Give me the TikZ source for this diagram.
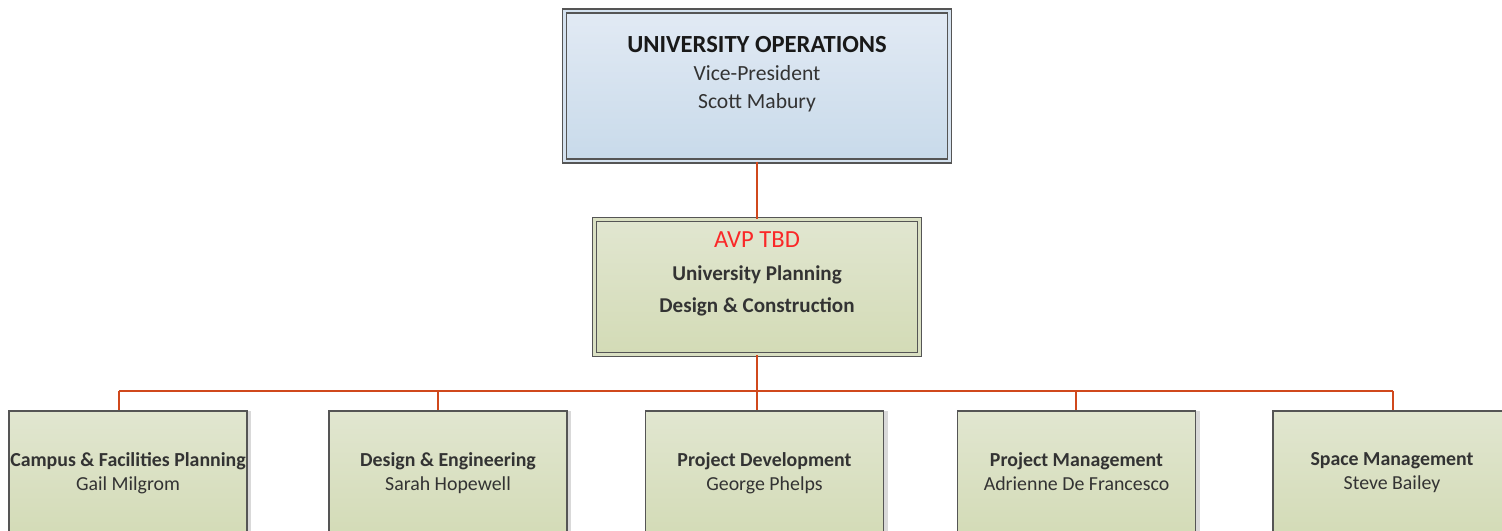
\documentclass[tikz,border=0pt]{standalone}
\usepackage{fontspec}
\setmainfont{Carlito}
\usetikzlibrary{shadows}

\definecolor{linkred}{RGB}{208,72,28}
\definecolor{edgegray}{RGB}{85,85,85}
\definecolor{bluetop}{RGB}{226,234,244}
\definecolor{bluebot}{RGB}{200,218,234}
\definecolor{greentop}{RGB}{225,230,208}
\definecolor{greenbot}{RGB}{211,219,182}
\definecolor{avpred}{RGB}{250,40,40}

\begin{document}
\begin{tikzpicture}[x=0.02cm,y=-0.02cm,
  link/.style={draw=linkred, line width=1.1pt},
  vpbox/.style={draw=edgegray, line width=0.8pt, double=bluetop!50!bluebot, double distance=1.6pt,
    top color=bluetop, bottom color=bluebot, minimum width=7.7cm, minimum height=3cm,
    drop shadow={shadow xshift=1.5pt, shadow yshift=-1.5pt, fill=black!20, opacity=1}},
  avpbox/.style={draw=edgegray, line width=0.8pt, double=greentop!50!greenbot, double distance=1.6pt,
    top color=greentop, bottom color=greenbot, minimum width=6.5cm, minimum height=2.7cm,
    drop shadow={shadow xshift=1.5pt, shadow yshift=-1.5pt, fill=black!20, opacity=1}},
  unitbox/.style={draw=edgegray, line width=1pt, top color=greentop, bottom color=greenbot,
    minimum width=4.76cm, minimum height=2.56cm, inner xsep=0pt, align=center, text=black!80,
    font=\fontsize{11.3}{13.6}\selectfont,
    execute at begin node=\strut, execute at end node=\strut,
    drop shadow={shadow xshift=2.5pt, shadow yshift=0pt, fill=black!15, opacity=1}},
  boxtext/.style={align=center, text=black!80}]

\useasboundingbox (0,0) rectangle (1502,531);
\clip (0,0) rectangle (1502,531);

\node (topbox) [vpbox] at (757,86) {};
\node (toptext) [boxtext, font=\fontsize{12.3}{16}\selectfont] at (757,74.5)
  {{\fontsize{14}{16}\selectfont\bfseries\color{black!90}UNIVERSITY OPERATIONS}\\Vice-President\\Scott Mabury};

\node (midbox) [avpbox] at (757,287) {};
\node (midtext) [boxtext, font=\fontsize{12}{18.5}\selectfont\bfseries] at (757,274)
  {{\fontsize{14}{18.5}\selectfont\mdseries\color{avpred}AVP TBD}\\University Planning\\Design \& Construction};

\node (b1) [unitbox] at (128,475) {\textbf{Campus \& Facilities Planning}\\Gail Milgrom};
\node (b2) [unitbox] at (448,475) {\textbf{Design \& Engineering}\\Sarah Hopewell};
\node (b3) [unitbox] at (764.5,475) {\textbf{Project Development}\\George Phelps};
\node (b4) [unitbox] at (1076.5,475) {\textbf{Project Management}\\Adrienne De Francesco};
\node (b5) [unitbox] at (1392,475) {\textbf{Space Management}\\Steve Bailey};

\coordinate (d1) at (119,391);
\coordinate (d2) at (438,391);
\coordinate (d3) at (757,391);
\coordinate (d4) at (1076,391);
\coordinate (d5) at (1393,391);

\draw[link] (topbox) -- (midbox);
\draw[link] (midbox.south) -- (d3);
\draw[link] (d1) -- (d5);
\foreach \i in {1,...,5}
  \draw[link] (d\i) -- (d\i |- b\i.north);

\end{tikzpicture}
\end{document}
